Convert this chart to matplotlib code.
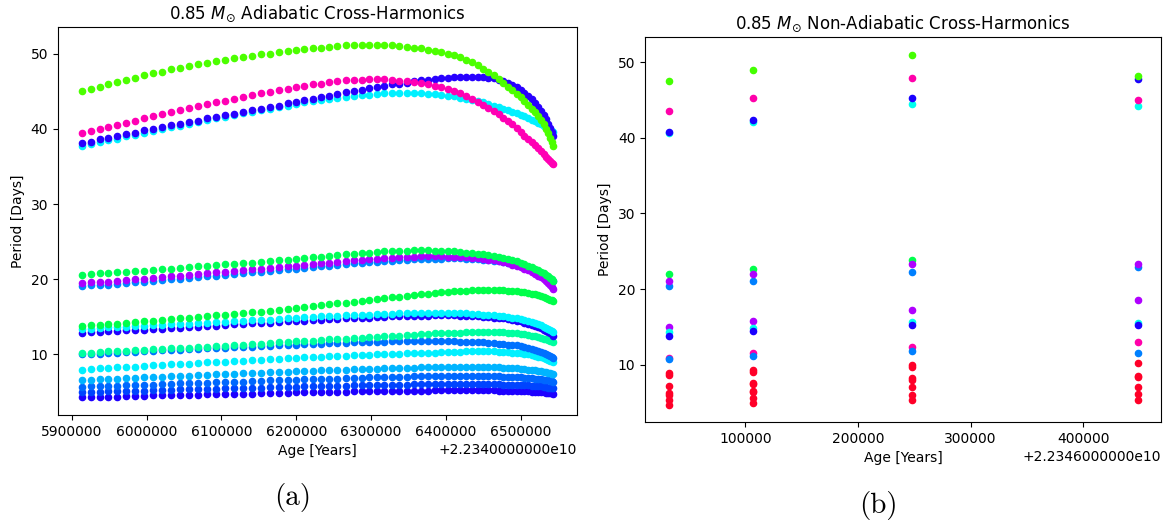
import matplotlib.pyplot as plt
from matplotlib.ticker import ScalarFormatter

# ---- (a) adiabatic: ages are years after base_a ----
base_a = 22340000000
age_a = [5913000, 5925000, 5937000, 5949000, 5961000, 5973000, 5985000, 5997000, 6009000, 6021000,
         6033000, 6045000, 6057000, 6069000, 6081000, 6093000, 6105000, 6117000, 6129000, 6141000,
         6153000, 6165000, 6177000, 6189000, 6200000, 6211000, 6222000, 6233000, 6244000, 6255000,
         6266000, 6277000, 6288000, 6298000, 6308000, 6318000, 6328000, 6338000, 6348000, 6358000,
         6367000, 6376000, 6385000, 6394000, 6403000, 6411000, 6419000, 6427000, 6435000, 6443000,
         6450000, 6457000, 6464000, 6471000, 6477000, 6483000, 6489000, 6495000, 6500000, 6505000,
         6510000, 6515000, 6519000, 6523000, 6527000, 6531000, 6534000, 6537000, 6540000, 6542000, 6544000]

p01 = [45.0, 45.3, 45.6, 45.9, 46.2, 46.5, 46.8, 47.1, 47.4, 47.6, 47.9, 48.1, 48.3, 48.6, 48.8, 49.0,
       49.2, 49.4, 49.5, 49.7, 49.9, 50.0, 50.2, 50.3, 50.5, 50.6, 50.7, 50.8, 50.9, 51.0, 51.1,
       51.1, 51.15, 51.2, 51.2, 51.15, 51.1, 51.0, 50.9, 50.8, 50.7, 50.5, 50.4, 50.2, 50.0, 49.8,
       49.5, 49.2, 48.9, 48.5, 48.0, 47.6, 47.1, 46.6, 46.1, 45.6, 45.1, 44.6, 44.2, 43.7, 43.2,
       42.7, 42.2, 41.7, 41.2, 40.6, 40.0, 39.4, 38.8, 38.3, 37.7]
p02 = [39.4, 39.7, 40.0, 40.2, 40.5, 40.8, 41.1, 41.4, 41.7, 42.0, 42.3, 42.5, 42.8, 43.0, 43.3, 43.5,
       43.7, 44.0, 44.2, 44.5, 44.7, 44.9, 45.1, 45.3, 45.5, 45.7, 45.9, 46.0, 46.2, 46.3, 46.45,
       46.5, 46.55, 46.6, 46.6, 46.6, 46.5, 46.4, 46.3, 46.2, 46.1, 45.9, 45.7, 45.5, 45.3, 45.0,
       44.7, 44.4, 44.0, 43.6, 43.2, 42.8, 42.4, 42.0, 41.5, 41.1, 40.6, 40.1, 39.6, 39.1, 38.6,
       38.2, 37.8, 37.4, 37.0, 36.6, 36.3, 36.0, 35.7, 35.5, 35.3]
p03 = [38.1, 38.3, 38.6, 38.8, 39.1, 39.3, 39.5, 39.8, 40.0, 40.2, 40.45, 40.7, 40.9, 41.1, 41.4, 41.6,
       41.8, 42.0, 42.3, 42.5, 42.7, 42.9, 43.1, 43.4, 43.6, 43.8, 44.0, 44.2, 44.4, 44.6, 44.85,
       45.0, 45.2, 45.4, 45.6, 45.75, 45.9, 46.0, 46.15, 46.3, 46.45, 46.55, 46.65, 46.75, 46.8, 46.85,
       46.9, 46.95, 46.95, 46.9, 46.9, 46.8, 46.7, 46.5, 46.3, 46.1, 45.8, 45.5, 45.2, 44.8, 44.4,
       43.9, 43.4, 42.9, 42.4, 41.9, 41.3, 40.7, 40.1, 39.6, 39.05]
p04 = [37.7, 38.0, 38.2, 38.5, 38.7, 39.0, 39.2, 39.5, 39.7, 40.0, 40.2, 40.4, 40.7, 40.9, 41.2, 41.4,
       41.6, 41.8, 42.1, 42.3, 42.5, 42.7, 42.9, 43.1, 43.3, 43.5, 43.7, 43.8, 44.0, 44.1, 44.25,
       44.35, 44.45, 44.55, 44.65, 44.7, 44.7, 44.75, 44.75, 44.7, 44.7, 44.65, 44.6, 44.5, 44.4, 44.3,
       44.15, 44.0, 43.85, 43.7, 43.5, 43.3, 43.1, 42.9, 42.7, 42.5, 42.3, 42.1, 41.9, 41.7, 41.4,
       41.2, 41.0, 40.8, 40.6, 40.4, 40.2, 40.0, 39.9, 39.7, 39.6]
p05 = [20.6, 20.7, 20.8, 20.85, 20.9, 21.0, 21.1, 21.15, 21.2, 21.3, 21.4, 21.5, 21.6, 21.7, 21.8, 21.9,
       22.0, 22.05, 22.1, 22.2, 22.3, 22.4, 22.5, 22.6, 22.7, 22.8, 22.9, 23.0, 23.1, 23.2, 23.3,
       23.4, 23.5, 23.55, 23.6, 23.7, 23.75, 23.8, 23.8, 23.85, 23.85, 23.85, 23.8, 23.8, 23.75, 23.7,
       23.6, 23.55, 23.5, 23.4, 23.3, 23.2, 23.1, 23.0, 22.85, 22.7, 22.55, 22.4, 22.2, 22.0, 21.8,
       21.6, 21.4, 21.2, 21.0, 20.8, 20.6, 20.4, 20.2, 20.0, 19.8]
p06 = [19.5, 19.6, 19.65, 19.7, 19.8, 19.9, 20.0, 20.1, 20.2, 20.3, 20.4, 20.5, 20.6, 20.7, 20.8, 20.9,
       21.0, 21.1, 21.2, 21.3, 21.4, 21.5, 21.6, 21.7, 21.8, 21.9, 22.0, 22.1, 22.2, 22.3, 22.4,
       22.5, 22.6, 22.65, 22.7, 22.8, 22.85, 22.9, 22.95, 23.0, 23.05, 23.05, 23.05, 23.05, 23.0, 23.0,
       22.95, 22.9, 22.85, 22.8, 22.7, 22.6, 22.5, 22.4, 22.25, 22.1, 21.95, 21.8, 21.6, 21.4, 21.2,
       21.0, 20.75, 20.5, 20.25, 20.0, 19.75, 19.5, 19.2, 18.95, 18.7]
p07 = [19.1, 19.2, 19.25, 19.3, 19.4, 19.5, 19.6, 19.7, 19.8, 19.9, 20.0, 20.1, 20.2, 20.3, 20.4, 20.5,
       20.6, 20.7, 20.8, 20.9, 21.0, 21.1, 21.2, 21.3, 21.4, 21.5, 21.6, 21.7, 21.8, 21.9, 22.0,
       22.1, 22.2, 22.25, 22.3, 22.4, 22.45, 22.5, 22.6, 22.65, 22.7, 22.7, 22.75, 22.75, 22.8, 22.8,
       22.8, 22.75, 22.7, 22.65, 22.6, 22.5, 22.45, 22.4, 22.3, 22.2, 22.1, 22.0, 21.85, 21.7, 21.5,
       21.3, 21.15, 21.0, 20.8, 20.6, 20.45, 20.3, 20.1, 19.95, 19.8]
p08 = [13.8, 13.9, 13.95, 14.0, 14.1, 14.2, 14.3, 14.4, 14.5, 14.6, 14.7, 14.8, 14.9, 15.0, 15.1, 15.2,
       15.3, 15.4, 15.5, 15.6, 15.7, 15.8, 15.95, 16.05, 16.2, 16.3, 16.4, 16.55, 16.65, 16.8, 16.9,
       17.0, 17.15, 17.25, 17.4, 17.5, 17.6, 17.7, 17.8, 17.9, 18.0, 18.1, 18.15, 18.25, 18.3, 18.4,
       18.45, 18.5, 18.55, 18.6, 18.6, 18.6, 18.6, 18.55, 18.55, 18.5, 18.45, 18.4, 18.35, 18.3, 18.2,
       18.1, 18.0, 17.9, 17.75, 17.6, 17.5, 17.4, 17.3, 17.2, 17.1]
p09 = [13.4, 13.45, 13.5, 13.6, 13.65, 13.7, 13.75, 13.8, 13.9, 13.95, 14.0, 14.05, 14.1, 14.2, 14.25, 14.3,
       14.35, 14.4, 14.5, 14.55, 14.6, 14.65, 14.75, 14.8, 14.9, 14.95, 15.0, 15.05, 15.1, 15.15, 15.2,
       15.25, 15.3, 15.3, 15.35, 15.4, 15.4, 15.45, 15.45, 15.5, 15.5, 15.5, 15.5, 15.5, 15.5, 15.5,
       15.45, 15.45, 15.4, 15.35, 15.3, 15.25, 15.2, 15.15, 15.05, 15.0, 14.9, 14.8, 14.7, 14.6, 14.5,
       14.35, 14.2, 14.05, 13.9, 13.7, 13.55, 13.4, 13.3, 13.15, 13.0]
p10 = [12.9, 12.95, 13.0, 13.1, 13.15, 13.2, 13.25, 13.3, 13.4, 13.45, 13.5, 13.55, 13.65, 13.7, 13.8, 13.85,
       13.9, 14.0, 14.05, 14.15, 14.2, 14.25, 14.3, 14.4, 14.45, 14.5, 14.55, 14.6, 14.7, 14.75, 14.8,
       14.85, 14.9, 14.9, 14.95, 15.0, 15.05, 15.05, 15.1, 15.1, 15.15, 15.15, 15.2, 15.2, 15.2, 15.2,
       15.15, 15.15, 15.1, 15.05, 15.0, 14.95, 14.9, 14.85, 14.8, 14.7, 14.6, 14.5, 14.4, 14.25, 14.1,
       13.95, 13.8, 13.65, 13.5, 13.3, 13.15, 13.0, 12.85, 12.7, 12.5]
p11 = [10.2, 10.25, 10.3, 10.4, 10.45, 10.5, 10.55, 10.6, 10.7, 10.75, 10.8, 10.85, 10.9, 11.0, 11.05, 11.1,
       11.15, 11.2, 11.3, 11.4, 11.45, 11.5, 11.6, 11.65, 11.75, 11.8, 11.85, 11.9, 12.0, 12.05, 12.1,
       12.15, 12.2, 12.3, 12.35, 12.4, 12.45, 12.5, 12.6, 12.65, 12.7, 12.75, 12.8, 12.85, 12.85, 12.9,
       12.9, 12.95, 12.95, 13.0, 13.0, 13.0, 13.0, 12.95, 12.95, 12.9, 12.85, 12.8, 12.75, 12.7, 12.6,
       12.5, 12.4, 12.3, 12.2, 12.1, 12.0, 11.95, 11.85, 11.8, 11.7]
p12 = [10.0, 10.05, 10.1, 10.2, 10.25, 10.3, 10.35, 10.4, 10.5, 10.55, 10.6, 10.65, 10.7, 10.75, 10.8, 10.85,
       10.9, 10.95, 11.0, 11.05, 11.1, 11.15, 11.2, 11.25, 11.3, 11.35, 11.4, 11.45, 11.5, 11.5, 11.55,
       11.6, 11.6, 11.65, 11.7, 11.7, 11.75, 11.75, 11.8, 11.8, 11.8, 11.8, 11.8, 11.8, 11.75, 11.75,
       11.7, 11.7, 11.65, 11.65, 11.6, 11.55, 11.5, 11.45, 11.4, 11.3, 11.25, 11.2, 11.1, 11.0, 10.9,
       10.75, 10.65, 10.5, 10.35, 10.2, 10.05, 9.9, 9.75, 9.65, 9.5]
p13 = [8.0, 8.05, 8.15, 8.2, 8.3, 8.35, 8.4, 8.5, 8.55, 8.65, 8.7, 8.75, 8.8, 8.9, 8.95, 9.0,
       9.05, 9.1, 9.2, 9.25, 9.3, 9.35, 9.4, 9.5, 9.55, 9.6, 9.65, 9.7, 9.75, 9.8, 9.85,
       9.9, 9.95, 9.95, 10.0, 10.05, 10.1, 10.1, 10.15, 10.15, 10.2, 10.25, 10.25, 10.3, 10.3, 10.35,
       10.35, 10.4, 10.4, 10.4, 10.4, 10.4, 10.4, 10.35, 10.35, 10.3, 10.25, 10.2, 10.15, 10.1, 10.0,
       9.9, 9.8, 9.7, 9.6, 9.5, 9.4, 9.3, 9.2, 9.1, 9.0]
p14 = [6.6, 6.65, 6.7, 6.75, 6.8, 6.85, 6.9, 6.95, 7.0, 7.05, 7.1, 7.15, 7.2, 7.25, 7.3, 7.35,
       7.4, 7.45, 7.5, 7.55, 7.6, 7.65, 7.7, 7.7, 7.75, 7.8, 7.85, 7.9, 7.9, 7.95, 8.0,
       8.05, 8.05, 8.1, 8.1, 8.15, 8.2, 8.2, 8.25, 8.25, 8.3, 8.3, 8.3, 8.35, 8.35, 8.35,
       8.35, 8.35, 8.35, 8.35, 8.35, 8.35, 8.3, 8.3, 8.25, 8.25, 8.2, 8.15, 8.1, 8.05, 8.0,
       7.95, 7.9, 7.85, 7.75, 7.7, 7.65, 7.6, 7.5, 7.45, 7.4]
p15 = [5.7, 5.75, 5.8, 5.8, 5.85, 5.9, 5.95, 6.0, 6.0, 6.05, 6.1, 6.15, 6.2, 6.2, 6.25, 6.3,
       6.35, 6.4, 6.4, 6.45, 6.5, 6.55, 6.6, 6.6, 6.65, 6.7, 6.7, 6.75, 6.8, 6.8, 6.85,
       6.9, 6.9, 6.95, 6.95, 7.0, 7.0, 7.05, 7.05, 7.1, 7.1, 7.1, 7.1, 7.15, 7.15, 7.15,
       7.15, 7.15, 7.15, 7.15, 7.15, 7.15, 7.1, 7.1, 7.05, 7.05, 7.0, 7.0, 6.95, 6.9, 6.9,
       6.85, 6.8, 6.75, 6.7, 6.65, 6.6, 6.55, 6.5, 6.45, 6.4]
p16 = [5.0, 5.05, 5.05, 5.1, 5.1, 5.15, 5.2, 5.2, 5.25, 5.25, 5.3, 5.35, 5.35, 5.4, 5.4, 5.45,
       5.5, 5.5, 5.55, 5.55, 5.6, 5.65, 5.65, 5.7, 5.7, 5.75, 5.75, 5.8, 5.8, 5.85, 5.85,
       5.9, 5.9, 5.9, 5.95, 5.95, 6.0, 6.0, 6.0, 6.05, 6.05, 6.05, 6.1, 6.1, 6.1, 6.1,
       6.1, 6.1, 6.1, 6.1, 6.1, 6.1, 6.05, 6.05, 6.0, 6.0, 6.0, 5.95, 5.95, 5.9, 5.9,
       5.85, 5.8, 5.8, 5.75, 5.7, 5.65, 5.6, 5.6, 5.55, 5.5]
p17 = [4.3, 4.35, 4.35, 4.4, 4.4, 4.45, 4.5, 4.5, 4.55, 4.55, 4.6, 4.6, 4.65, 4.65, 4.7, 4.7,
       4.75, 4.75, 4.8, 4.8, 4.85, 4.85, 4.9, 4.9, 4.95, 4.95, 5.0, 5.0, 5.0, 5.05, 5.05,
       5.1, 5.1, 5.1, 5.15, 5.15, 5.15, 5.2, 5.2, 5.2, 5.2, 5.2, 5.25, 5.25, 5.25, 5.25,
       5.25, 5.25, 5.25, 5.25, 5.25, 5.25, 5.25, 5.2, 5.2, 5.2, 5.2, 5.15, 5.15, 5.1, 5.1,
       5.05, 5.05, 5.0, 5.0, 4.95, 4.9, 4.9, 4.85, 4.85, 4.8]

series_a = [p17, p16, p15, p14, p13, p12, p11, p10, p09, p08, p07, p06, p05, p04, p03, p02, p01]
colors_a = ['#1e00ff', '#0044ff', '#0068ff', '#00b4ff', '#00f0ff', '#0070ff', '#00ffa0', '#2200ff',
            '#00f4ff', '#00ff4a', '#0088ff', '#aa00ff', '#00ff55', '#00f0ff', '#2800ff', '#ff00b4',
            '#4cff00']

# ---- (b) non-adiabatic: four models, ages in years after base_b ----
base_b = 22346000000
age_b = [31800, 106900, 248000, 448300]

lime_top = [47.5, 49.0, 51.0, 48.2]
pink_top = [43.5, 45.3, 47.9, 45.0]
blue_top = [40.8, 42.4, 45.3, 47.8]
cyan_top = [40.6, 42.1, 44.5, 44.2]
green_mid = [22.0, 22.6, 23.8]
purple_mid = [21.1, 22.0, 23.3, 23.3]
azure_mid = [20.4, 21.1, 22.3, 22.9]
purple_low = [14.95, 15.8, 17.25, 18.5]
cyan_low = [14.3, 14.8, 15.6, 15.5]
blue_low = [13.8, 14.4, 15.2, 15.2]
pink_low = [10.95, 11.5, 12.4, 13.0]
azure_low = [10.7, 11.1, 11.8, 11.5]
red_1 = [8.9, 8.65, 7.2, 6.25, 6.05, 5.4, 4.75]
red_2 = [9.35, 9.0, 7.65, 7.45, 6.55, 6.35, 5.65, 5.0]
red_3 = [10.0, 9.7, 8.25, 8.05, 7.0, 6.05, 5.3]
red_4 = [10.25, 8.55, 8.4, 7.1, 6.15, 5.4]


class LongOffset(ScalarFormatter):
    # old-style offset text, e.g. +2.2340000000e10
    def get_offset(self):
        if not self.offset:
            return ''
        return ('%+.10e' % self.offset).replace('e+', 'e')


fig = plt.figure(figsize=(11.69, 5.23), dpi=100)

ax1 = fig.add_axes([0.0496, 0.2065, 0.444, 0.742])
for vals, c in zip(series_a, colors_a):
    ax1.scatter([base_a + a for a in age_a], vals, s=20, color=c)
ax1.xaxis.set_major_formatter(LongOffset())
ax1.set_title(r'0.85 $M_{\odot}$ Adiabatic Cross-Harmonics')
ax1.set_xlabel('Age [Years]')
ax1.set_ylabel('Period [Days]')

ax2 = fig.add_axes([0.5518, 0.1931, 0.4414, 0.7361])
xb = [base_b + a for a in age_b]
ax2.scatter(xb, cyan_top, s=20, color='#00ffee')
ax2.scatter(xb, blue_top, s=20, color='#1a00ff')
ax2.scatter(xb, pink_top, s=20, color='#ff00aa')
ax2.scatter(xb, lime_top, s=20, color='#44ff00')
ax2.scatter(xb[:3], green_mid, s=20, color='#00ff4c')
ax2.scatter(xb, azure_mid, s=20, color='#0080ff')
ax2.scatter(xb, purple_mid, s=20, color='#b000ff')
ax2.scatter(xb, purple_low, s=20, color='#b000ff')
ax2.scatter(xb, cyan_low, s=20, color='#00ffee')
ax2.scatter(xb, blue_low, s=20, color='#1a00ff')
ax2.scatter(xb, pink_low, s=20, color='#ff00aa')
ax2.scatter(xb, azure_low, s=20, color='#0080ff')
for x, reds in zip(xb, [red_1, red_2, red_3, red_4]):
    ax2.scatter([x] * len(reds), reds, s=20, color='#ff0028')
ax2.xaxis.set_major_formatter(LongOffset())
ax2.set_title(r'0.85 $M_{\odot}$ Non-Adiabatic Cross-Harmonics')
ax2.set_xlabel('Age [Years]')
ax2.set_ylabel('Period [Days]')

fig.text(293 / 1169, 1 - 498 / 523, '(a)', family='cmr10', size=21, ha='center', va='center')
fig.text(878 / 1169, 1 - 505 / 523, '(b)', family='cmr10', size=21, ha='center', va='center')

fig.savefig('out.png', dpi=100)
